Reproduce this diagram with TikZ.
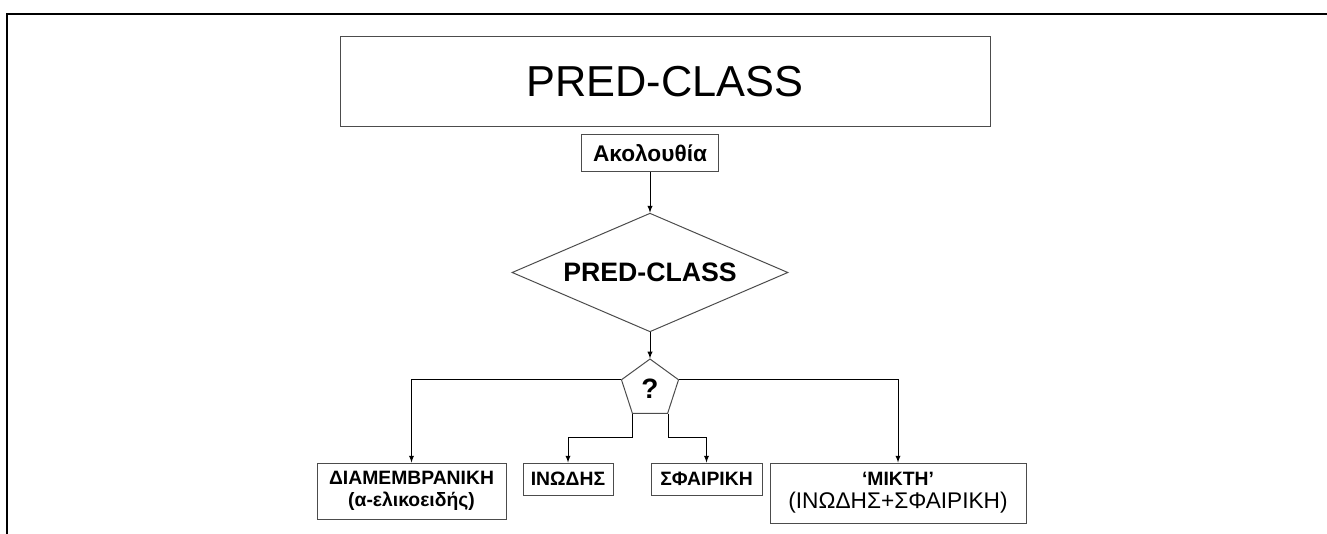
\documentclass[tikz,border=0pt]{standalone}
\usepackage{fontspec}
\setmainfont{Liberation Sans}
\usetikzlibrary{shapes.geometric,arrows,positioning}

\tikzset{
  box/.style={draw=black!70, line width=0.75pt, inner sep=1pt, align=center,
    font=\bfseries\fontsize{14.5}{17}\selectfont},
  decision/.style={diamond, aspect=2.32, draw=black!70, line width=0.75pt, inner sep=0pt,
    minimum width=207pt, minimum height=89pt, font=\bfseries\fontsize{20}{24}\selectfont},
  choice/.style={regular polygon, regular polygon sides=5, draw=black!70, line width=0.75pt,
    inner sep=0pt, minimum size=45pt, font=\bfseries\fontsize{21}{24}\selectfont}
}

\begin{document}
\begin{tikzpicture}[x=0.75pt,y=-0.75pt,>=latex,on grid]
  \useasboundingbox (0,0) rectangle (1327,534);
  % frame
  \draw[line width=1.5pt] (7,534) -- (7,14) -- (1327,14);

  \node[box, font=\fontsize{32.5}{36}\selectfont, minimum width=487.5pt, minimum height=68pt]
    (title) at (665,81.5) {PRED-CLASS};
  \node[box, font=\bfseries\fontsize{17}{20}\selectfont, minimum width=102.75pt,
    minimum height=27.75pt] (akol) at (650,153.5) {Ακολουθία};
  \node[decision] (pred) [below=89.25pt of akol] {PRED-CLASS};
  \node[choice] (quest) [below=87.4pt of pred] {?};

  \node[box, minimum width=141.75pt, minimum height=42pt] (memb) at (411.5,491)
    {ΔΙΑΜΕΜΒΡΑΝΙΚΗ\\(α-ελικοειδής)};
  \node[box, minimum width=67.5pt, minimum height=24pt] (inod) at (568,479) {ΙΝΩΔΗΣ};
  \node[box, minimum width=83.25pt, minimum height=24pt] (sfair) at (706.5,479) {ΣΦΑΙΡΙΚΗ};
  \node[box, minimum width=192pt, minimum height=45pt] (mikt) at (898,493)
    {‘ΜΙΚΤΗ’\\{\mdseries\fontsize{17}{20}\selectfont(ΙΝΩΔΗΣ+ΣΦΑΙΡΙΚΗ)}};

  \coordinate (split) at (651,437);

  \path[->, line width=0.75pt]
    (akol) edge (pred)
    (pred) edge (quest.corner 1);
  \draw[->, line width=0.75pt] (quest.corner 2) -| (memb.north);
  \draw[->, line width=0.75pt] (quest.corner 5) -| (mikt.north);
  \draw[->, line width=0.75pt] (quest.corner 3) -- (quest.corner 3 |- split) -| (inod.north);
  \draw[->, line width=0.75pt] (quest.corner 4) -- (quest.corner 4 |- split) -| (sfair.north);
\end{tikzpicture}
\end{document}
